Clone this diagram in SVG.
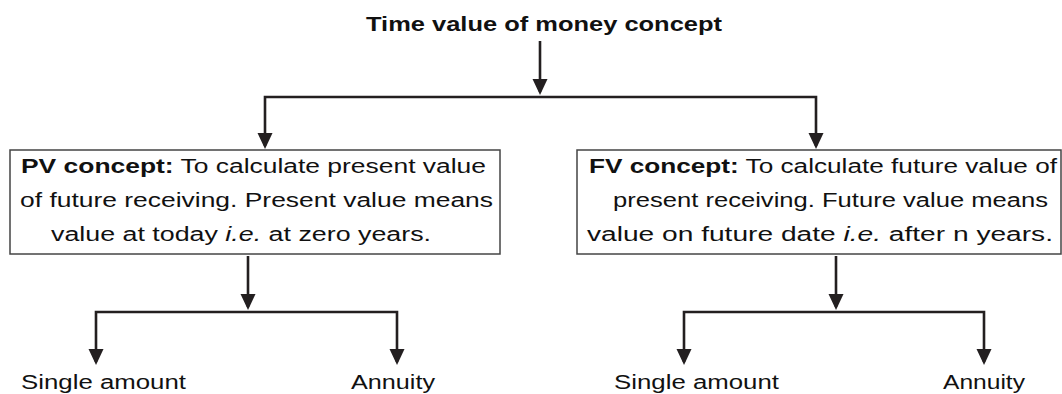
<svg xmlns="http://www.w3.org/2000/svg" width="1062" height="394" viewBox="0 0 1062 394">
<style>
text{font-family:"Liberation Sans",Arial,sans-serif;font-size:20px;fill:#111}
.t{font-weight:bold;font-size:21px}
.b{font-weight:bold}
.i{font-style:italic}
.box{fill:#fff;stroke:#444;stroke-width:1.5}
.c{fill:none;stroke:#231f20;stroke-width:2.6}
</style>
<defs>
<marker id="ah" markerUnits="userSpaceOnUse" markerWidth="17" markerHeight="16" refX="13" refY="8" orient="auto-start-reverse" viewBox="0 0 17 16">
<path d="M0,0.5 L16,8 L0,15.5 z" fill="#231f20"/>
</marker>
</defs>
<g id="title">
<text class="t" x="366" y="31" textLength="356" lengthAdjust="spacingAndGlyphs">Time value of money concept</text>
</g>
<g id="pv">
<rect class="box" x="10" y="150" width="490" height="104"/>
<text x="21" y="173" textLength="465" lengthAdjust="spacingAndGlyphs"><tspan class="b">PV concept:</tspan> To calculate present value</text>
<text x="20" y="207" textLength="473" lengthAdjust="spacingAndGlyphs">of future receiving. Present value means</text>
<text x="51" y="241" textLength="380" lengthAdjust="spacingAndGlyphs">value at today <tspan class="i">i.e.</tspan> at zero years.</text>
</g>
<g id="fv">
<rect class="box" x="577" y="150" width="484" height="104"/>
<text x="589" y="173" textLength="468" lengthAdjust="spacingAndGlyphs"><tspan class="b">FV concept:</tspan> To calculate future value of</text>
<text x="613" y="207" textLength="435" lengthAdjust="spacingAndGlyphs">present receiving. Future value means</text>
<text x="587" y="241" textLength="466" lengthAdjust="spacingAndGlyphs">value on future date <tspan class="i">i.e.</tspan> after n years.</text>
</g>
<g id="pv-single"><text x="21" y="389" textLength="165" lengthAdjust="spacingAndGlyphs">Single amount</text></g>
<g id="pv-annuity"><text x="351" y="389" textLength="84" lengthAdjust="spacingAndGlyphs">Annuity</text></g>
<g id="fv-single"><text x="614" y="389" textLength="165" lengthAdjust="spacingAndGlyphs">Single amount</text></g>
<g id="fv-annuity"><text x="943" y="389" textLength="82" lengthAdjust="spacingAndGlyphs">Annuity</text></g>
<g id="connectors">
<path class="c" d="M540,41 V92" marker-end="url(#ah)"/>
<path class="c" d="M265,146 V97 H816 V146" marker-start="url(#ah)" marker-end="url(#ah)"/>
<path class="c" d="M248,256 V307" marker-end="url(#ah)"/>
<path class="c" d="M96,362 V312 H397 V362" marker-start="url(#ah)" marker-end="url(#ah)"/>
<path class="c" d="M836,256 V307" marker-end="url(#ah)"/>
<path class="c" d="M684,362 V312 H984 V362" marker-start="url(#ah)" marker-end="url(#ah)"/>
</g>
</svg>
